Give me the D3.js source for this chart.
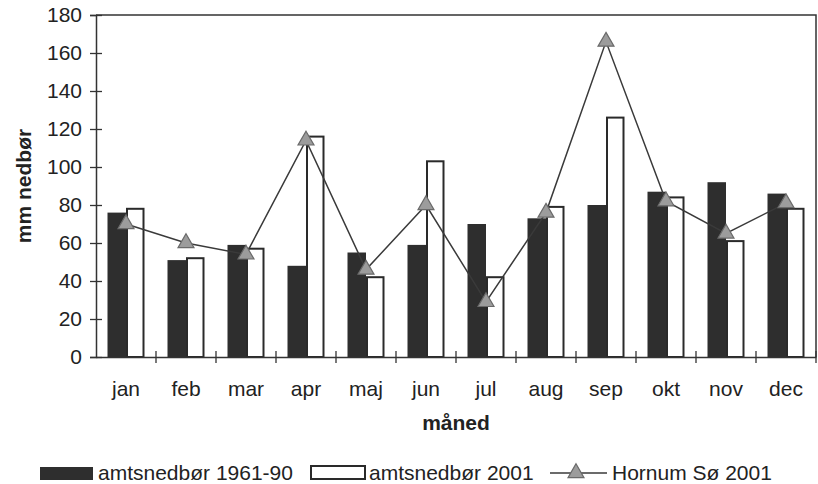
<!DOCTYPE html>
<html>
<head>
<meta charset="utf-8">
<script src="https://cdn.jsdelivr.net/npm/d3@7"></script>
<style>
  body { margin: 0; background: #fff; }
  svg text { font-family: "Liberation Sans", Arial, sans-serif; fill: #222; }
</style>
</head>
<body>
<svg id="chart" width="818" height="484"></svg>
<script>
// Months and series (mm precipitation)
const months = ['jan', 'feb', 'mar', 'apr', 'maj', 'jun', 'jul', 'aug', 'sep', 'okt', 'nov', 'dec'];
const amt6190 = [76, 51, 59, 48, 55, 59, 70, 73, 80, 87, 92, 86];
const amt2001 = [78, 52, 57, 116, 42, 103, 42, 79, 126, 84, 61, 78];
const hornum2001 = [70, 60, 54, 114, 46, 80, 29, 76, 166, 82, 65, 81];
const yTicks = [0, 20, 40, 60, 80, 100, 120, 140, 160, 180];

const svg = d3.select('#chart');

const plotLeft = 96, plotRight = 816, plotTop = 15, plotBottom = 357;

const x = d3.scaleBand().domain(months).range([plotLeft, plotRight]);
const x1 = d3.scaleBand().domain(['a', 'b']).range([11.5, 48.5]);
const y = d3.scaleLinear().domain([0, 180]).range([plotBottom, plotTop]);

// plot border (top + right)
svg.append('path')
  .attr('d', `M${plotLeft},${plotTop}H${plotRight}V${plotBottom}`)
  .attr('fill', 'none')
  .attr('stroke', '#333')
  .attr('stroke-width', 1.5);

// bars
const g = svg.append('g');
months.forEach((m, i) => {
  g.append('rect')
    .attr('x', x(m) + x1('a'))
    .attr('y', y(amt6190[i]))
    .attr('width', x1.bandwidth())
    .attr('height', y(0) - y(amt6190[i]))
    .attr('fill', '#2e2e2e');
  g.append('rect')
    .attr('x', x(m) + x1('b') + 1)
    .attr('y', y(amt2001[i]))
    .attr('width', x1.bandwidth() - 2)
    .attr('height', y(0) - y(amt2001[i]))
    .attr('fill', '#fff')
    .attr('stroke', '#2a2a2a')
    .attr('stroke-width', 2);
});

// y axis
const yAxis = svg.append('g')
  .attr('transform', `translate(${plotLeft},0)`)
  .call(d3.axisLeft(y).tickValues(yTicks).tickSize(6).tickPadding(8));
yAxis.select('.domain').attr('stroke', '#333').attr('stroke-width', 1.5);
yAxis.selectAll('.tick line').attr('x2', 6).attr('x1', -6).attr('stroke', '#333').attr('stroke-width', 1.3);
yAxis.selectAll('.tick text').attr('font-size', 21).attr('fill', '#222')
  .style('font-family', '"Liberation Sans", Arial, sans-serif');

// x axis
const xAxis = svg.append('g')
  .attr('transform', `translate(0,${plotBottom})`)
  .call(d3.axisBottom(x).tickSize(0).tickPadding(24));
xAxis.select('.domain').attr('stroke', '#333').attr('stroke-width', 1.5);
xAxis.selectAll('.tick text').attr('font-size', 21).attr('fill', '#222')
  .style('font-family', '"Liberation Sans", Arial, sans-serif');
xAxis.selectAll('.bound')
  .data(months.slice(1).concat(['end']))
  .join('line')
  .attr('x1', d => d === 'end' ? plotRight : x(d))
  .attr('x2', d => d === 'end' ? plotRight : x(d))
  .attr('y1', -6)
  .attr('y2', 6)
  .attr('stroke', '#333')
  .attr('stroke-width', 1.3);

// Hornum line
const line = d3.line()
  .x((d, i) => x(months[i]) + x.bandwidth() / 2)
  .y(d => y(d));
svg.append('path')
  .datum(hornum2001)
  .attr('d', line)
  .attr('fill', 'none')
  .attr('stroke', '#3a3a3a')
  .attr('stroke-width', 1.5);

const tri = d3.symbol().type(d3.symbolTriangle).size(110);
svg.append('g').selectAll('path')
  .data(hornum2001)
  .join('path')
  .attr('d', tri)
  .attr('transform', (d, i) => `translate(${x(months[i]) + x.bandwidth() / 2},${y(d)})`)
  .attr('fill', '#9c9c9c')
  .attr('stroke', '#6a6a6a')
  .attr('stroke-width', 1.2);

// axis titles
svg.append('text')
  .attr('transform', `translate(31,${(plotTop + plotBottom) / 2}) rotate(-90)`)
  .attr('text-anchor', 'middle')
  .attr('font-size', 21)
  .attr('font-weight', 'bold')
  .text('mm nedbør');

svg.append('text')
  .attr('x', (plotLeft + plotRight) / 2)
  .attr('y', 430)
  .attr('text-anchor', 'middle')
  .attr('font-size', 21)
  .attr('font-weight', 'bold')
  .text('måned');

// legend
const leg = svg.append('g');
leg.append('rect').attr('x', 40).attr('y', 467).attr('width', 53).attr('height', 13).attr('fill', '#2e2e2e');
leg.append('text').attr('x', 98).attr('y', 480).attr('font-size', 21).text('amtsnedbør 1961-90');
leg.append('rect').attr('x', 311).attr('y', 466).attr('width', 54).attr('height', 13)
  .attr('fill', '#fff').attr('stroke', '#2a2a2a').attr('stroke-width', 2);
leg.append('text').attr('x', 369).attr('y', 480).attr('font-size', 21).text('amtsnedbør 2001');
leg.append('line').attr('x1', 550).attr('x2', 607).attr('y1', 473).attr('y2', 473)
  .attr('stroke', '#3a3a3a').attr('stroke-width', 1.5);
leg.append('path').attr('d', tri).attr('transform', 'translate(576,473)')
  .attr('fill', '#9c9c9c').attr('stroke', '#6a6a6a').attr('stroke-width', 1.2);
leg.append('text').attr('x', 612).attr('y', 480).attr('font-size', 21).text('Hornum Sø 2001');
</script>
</body>
</html>
